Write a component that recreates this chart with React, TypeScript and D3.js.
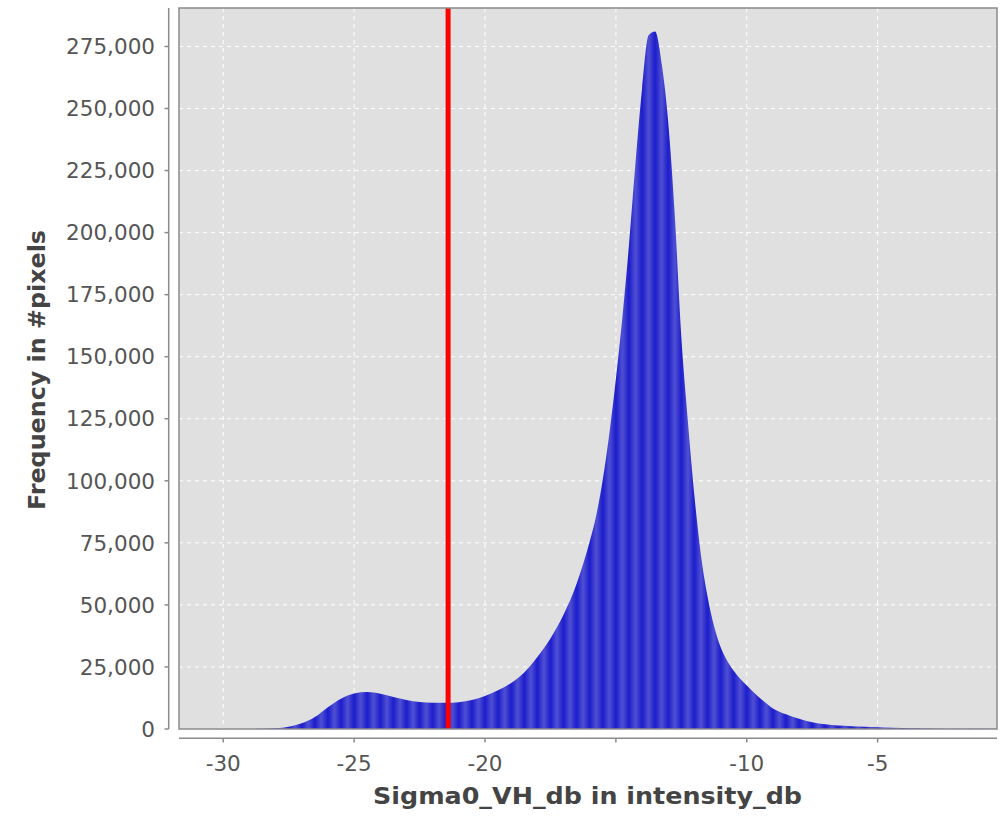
import React from "react";
import * as d3 from "d3";

// ---- data ----
const binDb = [
  -31.69, -29.0, -28.5, -28.0, -27.5, -27.0, -26.5, -26.0, -25.5, -25.0, -24.5, -24.0,
  -23.5, -23.0, -22.5, -22.0, -21.5, -21.0, -20.5, -20.0, -19.5, -19.0, -18.5, -18.0,
  -17.5, -17.0, -16.5, -16.0, -15.75, -15.5, -15.25, -15.0, -14.75, -14.5, -14.25, -14.0,
  -13.75, -13.5, -13.25, -13.0, -12.75, -12.5, -12.25, -12.0, -11.75, -11.5, -11.25, -11.0,
  -10.75, -10.5, -10.0, -9.5, -9.0, -8.5, -8.0, -7.5, -7.0, -6.0, -5.0, -4.0, -3.0, -2.0, -1.0, -0.44,
];
const pixelCounts = [
  0, 0, 100, 300, 900, 2300, 4800, 8800, 12200, 14300, 14900, 14200,
  12900, 11700, 10900, 10600, 10550, 10800, 11700, 13300, 15600, 18500, 22800, 29000,
  36500, 46000, 58500, 75500, 86000, 100500, 119000, 141000, 166000, 195000, 228000, 258000,
  279500, 281000, 268000, 244500, 207000, 158000, 124000, 94000, 70000, 53500, 41500, 33000,
  27500, 23500, 17500, 12500, 8300, 5900, 4100, 2700, 1900, 1100, 700, 400, 250, 150, 80, 50,
];
const xTicks = [-30, -25, -20, -15, -10, -5];
const xTickLabels = ["-30", "-25", "-20", "", "-10", "-5"];
const yTicks = [0, 25000, 50000, 75000, 100000, 125000, 150000, 175000, 200000, 225000, 250000, 275000];
const thresholdDb = -21.41;
const xTitle = "Sigma0_VH_db in intensity_db";
const yTitle = "Frequency in #pixels";

export default function App() {
  const W = 1002, H = 816;
  const L = 179, R = 997, T = 8, B = 729;
  const x = d3.scaleLinear().domain([-31.69, -0.44]).range([L, R]);
  const y = d3.scaleLinear().domain([0, 290500]).range([B, T]);
  const pts = binDb.map((d, i) => [d, pixelCounts[i]] as [number, number]);
  const area = d3
    .area<[number, number]>()
    .x((d) => x(d[0]))
    .y0(y(0))
    .y1((d) => y(d[1]))
    .curve(d3.curveMonotoneX);
  const period = x(-25) - x(-25.5);
  const fmt = d3.format(",");
  const tickColor = "#555";
  const axisColor = "#8a8a8a";
  const font = "'DejaVu Sans', Verdana, sans-serif";

  return (
    <svg
      width={W}
      height={H}
      style={{ position: "absolute", left: 0, top: 0, background: "#fff" }}
    >
      <defs>
        <linearGradient id="stripeGrad" x1="0" x2="1" y1="0" y2="0">
          <stop offset="0" stopColor="#5050d4" />
          <stop offset="0.5" stopColor="#1c1ccc" />
          <stop offset="1" stopColor="#5050d4" />
        </linearGradient>
        <pattern
          id="stripes"
          patternUnits="userSpaceOnUse"
          x={x(-25) - period / 2}
          y={0}
          width={period}
          height={H}
        >
          <rect x={0} y={0} width={period} height={H} fill="url(#stripeGrad)" />
        </pattern>
        <clipPath id="plotClip">
          <rect x={L} y={T} width={R - L} height={B - T} />
        </clipPath>
      </defs>
      <rect x={L} y={T} width={R - L} height={B - T} fill="#e0e0e0" />
      {/* grid */}
      {xTicks.map((t) => (
        <line
          key={"gx" + t}
          x1={x(t)}
          x2={x(t)}
          y1={T}
          y2={B}
          stroke="#fff"
          strokeWidth={1}
          strokeDasharray="4,4"
        />
      ))}
      {yTicks.map((t) => (
        <line
          key={"gy" + t}
          x1={L}
          x2={R}
          y1={y(t)}
          y2={y(t)}
          stroke="#fff"
          strokeWidth={1}
          strokeDasharray="4,4"
        />
      ))}
      <g clipPath="url(#plotClip)">
        <path d={area(pts) || ""} fill="url(#stripes)" />
        <line
          x1={x(thresholdDb)}
          x2={x(thresholdDb)}
          y1={T}
          y2={B}
          stroke="#ff0000"
          strokeWidth={5}
        />
      </g>
      <rect x={L} y={T} width={R - L} height={B - T} fill="none" stroke={axisColor} strokeWidth={1.5} />
      {/* y axis */}
      <line x1={168.7} x2={168.7} y1={T} y2={B} stroke={axisColor} strokeWidth={1.5} />
      {yTicks.map((t) => (
        <g key={"yt" + t}>
          <line x1={164.5} x2={168.7} y1={y(t)} y2={y(t)} stroke={axisColor} strokeWidth={1.5} />
          <text
            x={155}
            y={y(t)}
            dy="0.36em"
            textAnchor="end"
            fontFamily={font}
            fontSize={21.5}
            fill={tickColor}
          >
            {fmt(t)}
          </text>
        </g>
      ))}
      {/* x axis */}
      <line x1={L} x2={R} y1={738.3} y2={738.3} stroke={axisColor} strokeWidth={1.5} />
      {xTicks.map((t, i) => (
        <g key={"xt" + t}>
          <line x1={x(t)} x2={x(t)} y1={738.3} y2={742.5} stroke={axisColor} strokeWidth={1.5} />
          <text
            x={x(t)}
            y={771}
            textAnchor="middle"
            fontFamily={font}
            fontSize={21.5}
            fill={tickColor}
          >
            {xTickLabels[i]}
          </text>
        </g>
      ))}
      <text
        x={587.5}
        y={804}
        textAnchor="middle"
        fontFamily={font}
        fontSize={23}
        fontWeight="bold"
        fill="#444"
        textLength={429}
        lengthAdjust="spacingAndGlyphs"
      >
        {xTitle}
      </text>
      <text
        transform={`translate(45, 370) rotate(-90)`}
        textAnchor="middle"
        fontFamily={font}
        fontSize={23}
        fontWeight="bold"
        fill="#444"
        textLength={280}
        lengthAdjust="spacingAndGlyphs"
      >
        {yTitle}
      </text>
    </svg>
  );
}
